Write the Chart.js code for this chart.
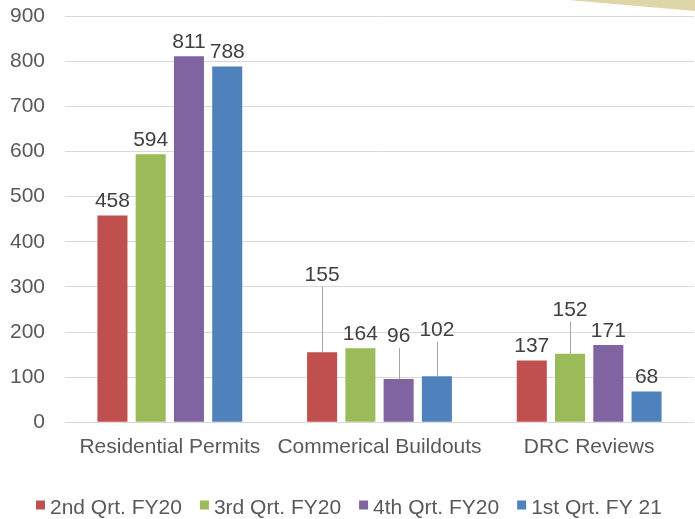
<!DOCTYPE html>
<html>
<head>
<meta charset="utf-8">
<title>Permits and Reviews by Quarter</title>
<style>
  html, body { margin: 0; padding: 0; background: #ffffff; }
  #wrap { width: 695px; height: 519px; position: relative; }
</style>
<script src="https://cdn.jsdelivr.net/npm/chart.js@4.4.1/dist/chart.umd.min.js"></script>
</head>
<body>
<div id="wrap"><canvas id="chart" width="695" height="519"></canvas></div>
<script>
// Categories and quarterly counts
const categories = ['Residential Permits', 'Commerical Buildouts', 'DRC Reviews'];
const seriesNames = ['2nd Qrt. FY20', '3rd Qrt. FY20', '4th Qrt. FY20', '1st Qrt. FY 21'];
const q2FY20 = [458, 155, 137];
const q3FY20 = [594, 164, 152];
const q4FY20 = [811, 96, 171];
const q1FY21 = [788, 102, 68];
const yTickValues = [0, 100, 200, 300, 400, 500, 600, 700, 800, 900];

const seriesColors = ['#C0504D', '#9BBB59', '#8064A2', '#4F81BD'];
const FONT = '"Liberation Sans", Arial, Helvetica, sans-serif';

// Value labels that sit higher than usual and get a thin leader line to their bar
// (key: "datasetIndex-categoryIndex", value: pixels from bar top to label centre)
const raisedLabels = { '0-1': 79, '2-1': 44, '3-1': 47.5, '1-2': 45 };
const normalLift = 16;

// Beige wedge in the top-right corner
const cornerWedge = {
  id: 'cornerWedge',
  beforeDraw(chart) {
    const { ctx, width } = chart;
    ctx.save();
    ctx.fillStyle = '#DED6A6';
    ctx.beginPath();
    ctx.moveTo(width - 127, 0);
    ctx.lineTo(width, 0);
    ctx.lineTo(width, 11);
    ctx.closePath();
    ctx.fill();
    ctx.restore();
  }
};

// Value labels above each bar
const valueLabels = {
  id: 'valueLabels',
  afterDatasetsDraw(chart) {
    const { ctx } = chart;
    ctx.save();
    ctx.font = '21px ' + FONT;
    ctx.textAlign = 'center';
    ctx.textBaseline = 'alphabetic';
    chart.data.datasets.forEach((ds, di) => {
      const meta = chart.getDatasetMeta(di);
      meta.data.forEach((bar, i) => {
        const key = di + '-' + i;
        const lift = raisedLabels[key] !== undefined ? raisedLabels[key] : normalLift;
        const cy = bar.y - lift;
        if (raisedLabels[key] !== undefined) {
          ctx.strokeStyle = '#A6A6A6';
          ctx.lineWidth = 1;
          ctx.beginPath();
          const lx = Math.round(bar.x) + 0.5;
          ctx.moveTo(lx, cy + 13);
          ctx.lineTo(lx, bar.y);
          ctx.stroke();
        }
        ctx.fillStyle = '#404040';
        ctx.fillText(String(ds.data[i]), bar.x, cy + 7.5);
      });
    });
    ctx.restore();
  }
};

// Legend row along the bottom
const bottomLegend = {
  id: 'bottomLegend',
  afterDraw(chart) {
    const { ctx, width } = chart;
    const box = 9, gap = 5, spacing = 18;
    ctx.save();
    ctx.font = '21px ' + FONT;
    ctx.textBaseline = 'alphabetic';
    ctx.textAlign = 'left';
    const items = chart.data.datasets.map(ds => ({
      text: ds.label, color: ds.backgroundColor, w: ctx.measureText(ds.label).width
    }));
    const total = items.reduce((s, it) => s + box + gap + it.w, 0) + spacing * (items.length - 1);
    let x = Math.round((width - total) / 2) + 1;
    const boxTop = 500.5;
    items.forEach(it => {
      ctx.fillStyle = it.color;
      ctx.fillRect(x, boxTop, box, box);
      ctx.fillStyle = '#595959';
      ctx.fillText(it.text, x + box + gap, 513.5);
      x += box + gap + it.w + spacing;
    });
    ctx.restore();
  }
};

const seriesValues = [q2FY20, q3FY20, q4FY20, q1FY21];

new Chart(document.getElementById('chart'), {
  type: 'bar',
  data: {
    labels: categories,
    datasets: seriesNames.map((name, k) => ({
      label: name,
      data: seriesValues[k],
      backgroundColor: seriesColors[k],
      borderWidth: 0,
      categoryPercentage: 0.73,
      barPercentage: 0.785
    }))
  },
  options: {
    responsive: false,
    animation: false,
    devicePixelRatio: 1,
    layout: { padding: { top: 16, left: 10, right: 1, bottom: 46.5 } },
    plugins: {
      legend: { display: false },
      tooltip: { enabled: false }
    },
    scales: {
      x: {
        grid: { display: false, drawTicks: false },
        border: { display: false },
        ticks: {
          color: '#595959',
          font: { family: FONT, size: 21 },
          padding: 12.5,
          maxRotation: 0,
          autoSkip: false
        }
      },
      y: {
        min: 0,
        max: 900,
        afterBuildTicks(scale) {
          scale.ticks = yTickValues.map(v => ({ value: v }));
        },
        afterFit(scale) {
          scale.width = 55;
          scale.paddingTop = 0;
          scale.paddingBottom = 0;
        },
        grid: { color: '#D9D9D9', lineWidth: 1, drawTicks: false },
        border: { display: false },
        ticks: {
          color: '#595959',
          font: { family: FONT, size: 21 },
          padding: 20
        }
      }
    }
  },
  plugins: [cornerWedge, valueLabels, bottomLegend]
});
</script>
</body>
</html>
